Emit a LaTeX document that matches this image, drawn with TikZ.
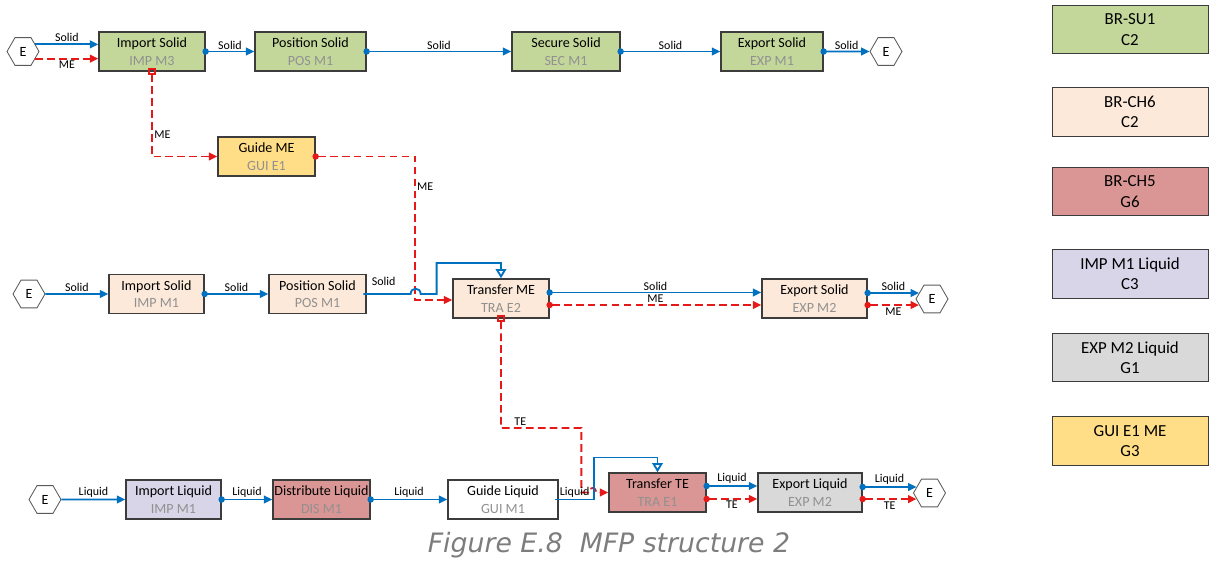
\documentclass[tikz,border=0pt]{standalone}
\usepackage{fontspec}
\setmainfont{Carlito}
\newfontfamily\capfont{DejaVu Sans}
\usetikzlibrary{arrows.meta,shapes.geometric,calc}

\definecolor{cgreen}{RGB}{196,215,155}
\definecolor{cpeach}{RGB}{253,233,217}
\definecolor{crose}{RGB}{218,150,148}
\definecolor{clilac}{RGB}{217,213,232}
\definecolor{cgrey}{RGB}{217,217,217}
\definecolor{cgold}{RGB}{255,222,135}
\definecolor{boxline}{RGB}{60,60,60}
\definecolor{extline}{RGB}{90,90,90}
\definecolor{subgrey}{RGB}{145,145,145}
\definecolor{capgrey}{RGB}{125,125,125}
\definecolor{flowblue}{RGB}{0,112,192}
\definecolor{flowred}{RGB}{230,25,25}

\newcommand{\fn}[2]{#1\\{\color{subgrey}#2}}

\tikzset{
  box/.style={draw=boxline, line width=0.9pt, align=center, minimum height=0.98cm, inner sep=1pt, font=\fontsize{10}{12.5}\selectfont},
  kgreen/.style={box, fill=cgreen}, kpeach/.style={box, fill=cpeach},
  krose/.style={box, fill=crose}, klilac/.style={box, fill=clilac},
  kgrey/.style={box, fill=cgrey}, kgold/.style={box, fill=cgold},
  kwhite/.style={box, fill=white},
  ext/.style={draw=extline, line width=0.6pt, fill=white, regular polygon, regular polygon sides=6, minimum size=0.8cm, inner sep=0pt, font=\fontsize{10}{12}\selectfont},
  legend/.style={draw=boxline, line width=0.6pt, align=center, minimum width=3.9cm, minimum height=1.22cm, font=\fontsize{12}{14.5}\selectfont},
  flowb/.style={draw=flowblue, line width=1.3pt, -{Triangle[length=6pt,width=5.5pt]}},
  flowr/.style={draw=flowred, line width=1.3pt, dash pattern=on 5.5pt off 3pt, -{Triangle[length=6pt,width=5.5pt]}},
  fromdot/.style={{Circle[length=4.5pt]}-{Triangle[length=6pt,width=5.5pt]}, shorten <=-2.25pt},
  fromsq/.style={{Square[open,length=5pt,width=5pt]}-{Triangle[length=6pt,width=5.5pt]}, shorten <=-2.5pt},
  tofeed/.style={-{Triangle[open,length=6.5pt,width=7.5pt]}},
  lbl/.style={font=\fontsize{8.5}{10}\selectfont, inner sep=1pt},
}

\begin{document}
\begin{tikzpicture}[x=0.025cm, y=-0.025cm]
  \useasboundingbox (0,0) rectangle (1210,565);

  \node[ext] (e1in) at (23,51.5) {E};
  \node[kgreen, minimum width=2.65cm] (imp3) at (152,51.5) {\fn{Import Solid}{IMP M3}};
  \node[kgreen, minimum width=2.775cm] (pos1) at (310.5,51.5) {\fn{Position Solid}{POS M1}};
  \node[kgreen, minimum width=2.7cm] (sec1) at (566,51.5) {\fn{Secure Solid}{SEC M1}};
  \node[kgreen, minimum width=2.55cm] (exp1) at (772,51.5) {\fn{Export Solid}{EXP M1}};
  \node[ext] (e1out) at (886,51.5) {E};
  \node[kgold, minimum width=2.425cm] (guime) at (266.5,156.5) {\fn{Guide ME}{GUI E1}};

  \node[ext] (e2in) at (29,294) {E};
  \node[kpeach, minimum width=2.375cm] (imp2) at (156.5,294) {\fn{Import Solid}{IMP M1}};
  \node[kpeach, minimum width=2.425cm] (pos2) at (317.5,294) {\fn{Position Solid}{POS M1}};
  \node[kpeach, minimum width=2.4cm] (trame) at (501,298.5) {\fn{Transfer ME}{TRA E2}};
  \node[kpeach, minimum width=2.625cm] (exps2) at (814.5,298.5) {\fn{Export Solid}{EXP M2}};
  \node[ext] (e2out) at (932,299) {E};

  \node[ext] (e3in) at (45,499.5) {E};
  \node[klilac, minimum width=2.375cm] (impliq) at (173.5,499.5) {\fn{Import Liquid}{IMP M1}};
  \node[krose, minimum width=2.425cm] (disliq) at (321.5,499.5) {\fn{Distribute Liquid}{DIS M1}};
  \node[kwhite, minimum width=2.75cm] (guiliq) at (503,499.5) {\fn{Guide Liquid}{GUI M1}};
  \node[krose, minimum width=2.425cm] (trate) at (657.5,492.5) {\fn{Transfer TE}{TRA E1}};
  \node[kgrey, minimum width=2.6cm] (expliq) at (810,492.5) {\fn{Export Liquid}{EXP M2}};
  \node[ext] (e3out) at (929.5,493) {E};

  \node[legend, fill=cgreen] (leg1) at (1130,29.5) {BR-SU1\\C2};
  \node[legend, fill=cpeach] (leg2) at (1130,112) {BR-CH6\\C2};
  \node[legend, fill=crose] (leg3) at (1130,191.5) {BR-CH5\\G6};
  \node[legend, fill=clilac] (leg4) at (1130,274) {IMP M1 Liquid\\C3};
  \node[legend, fill=cgrey] (leg5) at (1130,357.5) {EXP M2 Liquid\\G1};
  \node[legend, fill=cgold] (leg6) at (1130,441) {GUI E1 ME\\G3};

  \node[font=\capfont\itshape\fontsize{19}{22}\selectfont, text=capgrey] (caption) at (609,545) {Figure E.8\ \ MFP structure 2};

  \draw[flowb] (e1in.30) -- (imp3.west |- e1in.30) node[midway, above, lbl] {Solid};
  \draw[flowr] (e1in.330) -- (imp3.west |- e1in.330) node[midway, below, lbl] {ME};
  \draw[flowb, fromdot] (imp3.east) -- (pos1.west) node[midway, above, lbl] {Solid};
  \draw[flowb, fromdot] (pos1.east) -- (sec1.west) node[midway, above, lbl] {Solid};
  \draw[flowb, fromdot] (sec1.east) -- (exp1.west) node[midway, above, lbl] {Solid};
  \draw[flowb, fromdot] (exp1.east) -- (e1out.west) node[midway, above, lbl] {Solid};
  \draw[flowr, fromsq] (imp3.south) |- node[pos=0.37, right, lbl] {ME} (guime.west);
  \draw[flowr, fromdot] (guime.east) -| ($(trame.west)+(-37,1.5)$) -- ($(trame.west)+(0,1.5)$);
  \node[lbl, right] (guimelbl) at ($(trame.west)+(-37,-111.5)$) {ME};

  \draw[flowb] (e2in.east) -- (imp2.west) node[midway, above, lbl] {Solid};
  \draw[flowb, fromdot] (imp2.east) -- (pos2.west) node[midway, above, lbl] {Solid};
  \draw[flowb, fromdot, tofeed] (pos2.east) -- ++(44,0)
    .. controls +(0,-7) and +(0,-7) .. ++(10,0) -- ++(16,0) -- ++(0,-31) -| (trame.north);
  \node[lbl] (pos2lbl) at ($(pos2.east)+(17,-13)$) {Solid};
  \draw[flowb, fromdot] ($(trame.east)+(0,-6)$) -- ($(exps2.west)+(0,-6)$) node[midway, above, lbl] {Solid};
  \draw[flowr, fromdot] ($(trame.east)+(0,6.5)$) -- ($(exps2.west)+(0,6.5)$) node[midway, above, lbl] {ME};
  \draw[flowb, fromdot] (exps2.east |- e2out.155) -- (e2out.155) node[midway, above, lbl] {Solid};
  \draw[flowr, fromdot] (exps2.east |- e2out.205) -- (e2out.205) node[midway, below, lbl] {ME};
  \draw[flowr, fromsq] (trame.south) |- node[pos=0.62, above, lbl] {TE} ($(trate.west)+(-27,-64.5)$) -- ++(0,64.5)
    -- ++(7,0) .. controls +(0,-6) and +(0,-6) .. ++(8,0) -- (trate.west);

  \draw[flowb] (e3in.east) -- (impliq.west) node[midway, above, lbl] {Liquid};
  \draw[flowb, fromdot] (impliq.east) -- (disliq.west) node[midway, above, lbl] {Liquid};
  \draw[flowb, fromdot] (disliq.east) -- (guiliq.west) node[midway, above, lbl] {Liquid};
  \draw[flowb, fromdot, tofeed] (guiliq.east) -- ++(35,0) -- ++(0,-42) -| (trate.north);
  \node[lbl, above] (guiliqlbl) at ($(guiliq.east)+(16,0)$) {Liquid};
  \draw[flowb, fromdot] ($(trate.east)+(0,-6.5)$) -- ($(expliq.west)+(0,-6.5)$) node[midway, above, lbl] {Liquid};
  \draw[flowr, fromdot] ($(trate.east)+(0,6.5)$) -- ($(expliq.west)+(0,6.5)$) node[midway, below, lbl] {TE};
  \draw[flowb, fromdot] (expliq.east |- e3out.155) -- (e3out.155) node[midway, above, lbl] {Liquid};
  \draw[flowr, fromdot] (expliq.east |- e3out.205) -- (e3out.205) node[midway, below, lbl] {TE};
\end{tikzpicture}
\end{document}
